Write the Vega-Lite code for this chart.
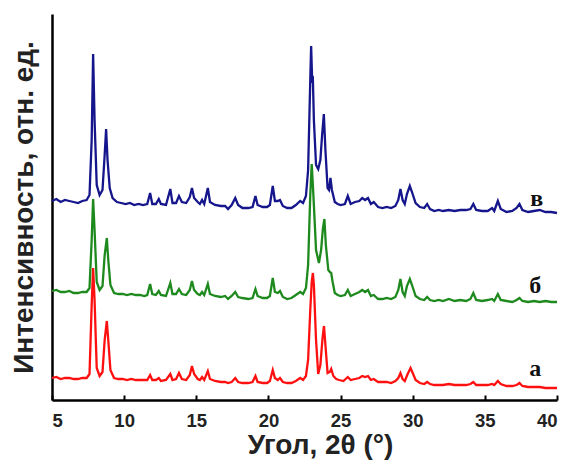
{
  "$schema": "https://vega.github.io/schema/vega-lite/v6.json",
  "width": 505,
  "height": 386,
  "autosize": "none",
  "padding": {"left": 52, "top": 14, "right": 12, "bottom": 63},
  "background": "white",
  "config": {"view": {"stroke": null}},
  "datasets": {
    "a": [
      {"x":5.0,"y":22},{"x":5.3,"y":23},{"x":5.6,"y":21},{"x":5.9,"y":22},{"x":6.2,"y":22},{"x":6.5,"y":21},{"x":6.8,"y":21},{"x":7.1,"y":22},{"x":7.4,"y":22},{"x":7.6,"y":26},{"x":7.75,"y":95},{"x":7.85,"y":132},{"x":7.95,"y":100},{"x":8.1,"y":32},{"x":8.3,"y":24},{"x":8.5,"y":28},{"x":8.65,"y":60},{"x":8.8,"y":79},{"x":8.9,"y":60},{"x":9.05,"y":30},{"x":9.3,"y":22},{"x":9.6,"y":21},{"x":9.9,"y":21},{"x":10.2,"y":20},{"x":10.5,"y":21},{"x":10.8,"y":20},{"x":11.1,"y":20},{"x":11.4,"y":20},{"x":11.6,"y":20},{"x":11.8,"y":25},{"x":11.95,"y":20},{"x":12.2,"y":20},{"x":12.4,"y":22},{"x":12.55,"y":19},{"x":12.9,"y":20},{"x":13.2,"y":26},{"x":13.35,"y":20},{"x":13.6,"y":21},{"x":13.8,"y":27},{"x":14.0,"y":21},{"x":14.3,"y":20},{"x":14.55,"y":25},{"x":14.7,"y":34},{"x":14.85,"y":26},{"x":15.1,"y":21},{"x":15.25,"y":20},{"x":15.4,"y":23},{"x":15.55,"y":20},{"x":15.8,"y":29},{"x":15.95,"y":21},{"x":16.3,"y":19},{"x":16.7,"y":18},{"x":17.0,"y":18},{"x":17.2,"y":17},{"x":17.45,"y":18},{"x":17.7,"y":22},{"x":17.9,"y":18},{"x":18.2,"y":17},{"x":18.6,"y":17},{"x":18.9,"y":18},{"x":19.1,"y":24},{"x":19.25,"y":18},{"x":19.6,"y":17},{"x":19.9,"y":17},{"x":20.1,"y":19},{"x":20.3,"y":30},{"x":20.45,"y":22},{"x":20.65,"y":20},{"x":20.8,"y":22},{"x":21.0,"y":18},{"x":21.3,"y":17},{"x":21.6,"y":17},{"x":21.9,"y":19},{"x":22.2,"y":22},{"x":22.4,"y":20},{"x":22.6,"y":24},{"x":22.75,"y":40},{"x":22.9,"y":90},{"x":23.0,"y":118},{"x":23.08,"y":127},{"x":23.15,"y":115},{"x":23.3,"y":60},{"x":23.45,"y":26},{"x":23.6,"y":35},{"x":23.75,"y":62},{"x":23.85,"y":74},{"x":23.95,"y":55},{"x":24.1,"y":27},{"x":24.25,"y":28},{"x":24.35,"y":31},{"x":24.5,"y":24},{"x":24.7,"y":21},{"x":24.9,"y":20},{"x":25.2,"y":19},{"x":25.5,"y":23},{"x":25.7,"y":20},{"x":26.0,"y":21},{"x":26.3,"y":22},{"x":26.5,"y":24},{"x":26.7,"y":23},{"x":26.9,"y":24},{"x":27.1,"y":20},{"x":27.3,"y":21},{"x":27.6,"y":18},{"x":27.9,"y":18},{"x":28.2,"y":18},{"x":28.5,"y":17},{"x":28.8,"y":19},{"x":29.0,"y":22},{"x":29.15,"y":27},{"x":29.3,"y":21},{"x":29.45,"y":19},{"x":29.65,"y":26},{"x":29.85,"y":32},{"x":30.0,"y":27},{"x":30.2,"y":20},{"x":30.5,"y":17},{"x":30.8,"y":16},{"x":31.0,"y":18},{"x":31.2,"y":16},{"x":31.5,"y":15},{"x":31.8,"y":15},{"x":32.1,"y":15},{"x":32.5,"y":16},{"x":32.9,"y":15},{"x":33.3,"y":15},{"x":33.7,"y":15},{"x":34.0,"y":16},{"x":34.2,"y":18},{"x":34.4,"y":15},{"x":34.8,"y":15},{"x":35.2,"y":15},{"x":35.5,"y":16},{"x":35.65,"y":15},{"x":35.9,"y":19},{"x":36.1,"y":16},{"x":36.5,"y":14},{"x":36.9,"y":14},{"x":37.2,"y":15},{"x":37.4,"y":17},{"x":37.6,"y":14},{"x":38.0,"y":13},{"x":38.4,"y":13},{"x":38.8,"y":13},{"x":39.2,"y":12},{"x":39.6,"y":12},{"x":40.0,"y":12}
    ],
    "b": [
      {"x":5.0,"y":109},{"x":5.3,"y":110},{"x":5.6,"y":108},{"x":5.9,"y":108},{"x":6.2,"y":109},{"x":6.5,"y":107},{"x":6.8,"y":107},{"x":7.1,"y":108},{"x":7.4,"y":108},{"x":7.6,"y":112},{"x":7.75,"y":160},{"x":7.85,"y":201},{"x":7.95,"y":170},{"x":8.1,"y":118},{"x":8.3,"y":110},{"x":8.5,"y":114},{"x":8.65,"y":145},{"x":8.8,"y":162},{"x":8.9,"y":140},{"x":9.05,"y":115},{"x":9.3,"y":107},{"x":9.6,"y":106},{"x":9.9,"y":106},{"x":10.2,"y":105},{"x":10.5,"y":106},{"x":10.8,"y":105},{"x":11.1,"y":105},{"x":11.4,"y":104},{"x":11.6,"y":105},{"x":11.8,"y":116},{"x":11.95,"y":106},{"x":12.2,"y":105},{"x":12.4,"y":109},{"x":12.55,"y":105},{"x":12.9,"y":104},{"x":13.2,"y":117},{"x":13.35,"y":106},{"x":13.6,"y":106},{"x":13.8,"y":111},{"x":14.0,"y":106},{"x":14.3,"y":105},{"x":14.55,"y":110},{"x":14.7,"y":119},{"x":14.85,"y":110},{"x":15.1,"y":106},{"x":15.25,"y":105},{"x":15.4,"y":108},{"x":15.55,"y":105},{"x":15.8,"y":116},{"x":15.95,"y":106},{"x":16.3,"y":104},{"x":16.7,"y":103},{"x":17.0,"y":104},{"x":17.2,"y":101},{"x":17.45,"y":104},{"x":17.7,"y":108},{"x":17.9,"y":103},{"x":18.2,"y":102},{"x":18.6,"y":101},{"x":18.9,"y":102},{"x":19.1,"y":111},{"x":19.25,"y":104},{"x":19.6,"y":102},{"x":19.9,"y":102},{"x":20.1,"y":104},{"x":20.3,"y":122},{"x":20.45,"y":108},{"x":20.65,"y":107},{"x":20.8,"y":109},{"x":21.0,"y":103},{"x":21.3,"y":101},{"x":21.6,"y":102},{"x":21.9,"y":105},{"x":22.2,"y":108},{"x":22.4,"y":106},{"x":22.6,"y":112},{"x":22.75,"y":135},{"x":22.9,"y":205},{"x":23.0,"y":236},{"x":23.08,"y":215},{"x":23.15,"y":195},{"x":23.3,"y":150},{"x":23.5,"y":137},{"x":23.65,"y":150},{"x":23.78,"y":172},{"x":23.88,"y":181},{"x":23.98,"y":155},{"x":24.15,"y":130},{"x":24.25,"y":128},{"x":24.35,"y":127},{"x":24.45,"y":118},{"x":24.6,"y":107},{"x":24.8,"y":105},{"x":25.0,"y":104},{"x":25.3,"y":105},{"x":25.5,"y":110},{"x":25.7,"y":104},{"x":26.0,"y":106},{"x":26.3,"y":108},{"x":26.5,"y":110},{"x":26.7,"y":108},{"x":26.9,"y":110},{"x":27.1,"y":104},{"x":27.3,"y":105},{"x":27.6,"y":101},{"x":27.9,"y":101},{"x":28.2,"y":102},{"x":28.5,"y":101},{"x":28.8,"y":103},{"x":29.0,"y":110},{"x":29.15,"y":121},{"x":29.3,"y":108},{"x":29.45,"y":104},{"x":29.6,"y":114},{"x":29.8,"y":121},{"x":29.95,"y":115},{"x":30.2,"y":104},{"x":30.5,"y":101},{"x":30.8,"y":100},{"x":31.0,"y":103},{"x":31.2,"y":100},{"x":31.5,"y":99},{"x":31.8,"y":100},{"x":32.1,"y":99},{"x":32.5,"y":101},{"x":32.9,"y":99},{"x":33.3,"y":100},{"x":33.7,"y":99},{"x":34.0,"y":101},{"x":34.2,"y":107},{"x":34.4,"y":100},{"x":34.8,"y":99},{"x":35.2,"y":100},{"x":35.5,"y":101},{"x":35.65,"y":99},{"x":35.9,"y":106},{"x":36.1,"y":100},{"x":36.5,"y":99},{"x":36.9,"y":98},{"x":37.2,"y":100},{"x":37.4,"y":102},{"x":37.6,"y":99},{"x":38.0,"y":98},{"x":38.4,"y":99},{"x":38.8,"y":98},{"x":39.2,"y":99},{"x":39.6,"y":98},{"x":40.0,"y":98}
    ],
    "c": [
      {"x":5.0,"y":199},{"x":5.3,"y":201},{"x":5.6,"y":198},{"x":5.9,"y":200},{"x":6.2,"y":199},{"x":6.5,"y":198},{"x":6.8,"y":197},{"x":7.1,"y":199},{"x":7.4,"y":200},{"x":7.6,"y":205},{"x":7.75,"y":260},{"x":7.85,"y":346},{"x":7.95,"y":280},{"x":8.1,"y":215},{"x":8.3,"y":205},{"x":8.5,"y":210},{"x":8.65,"y":245},{"x":8.75,"y":271},{"x":8.85,"y":240},{"x":9.0,"y":212},{"x":9.2,"y":202},{"x":9.5,"y":198},{"x":9.8,"y":197},{"x":10.1,"y":196},{"x":10.4,"y":197},{"x":10.7,"y":195},{"x":11.0,"y":196},{"x":11.3,"y":195},{"x":11.6,"y":196},{"x":11.8,"y":207},{"x":11.95,"y":196},{"x":12.2,"y":196},{"x":12.4,"y":201},{"x":12.55,"y":196},{"x":12.9,"y":195},{"x":13.2,"y":211},{"x":13.35,"y":197},{"x":13.6,"y":197},{"x":13.8,"y":204},{"x":14.0,"y":198},{"x":14.3,"y":197},{"x":14.55,"y":203},{"x":14.7,"y":212},{"x":14.85,"y":202},{"x":15.1,"y":198},{"x":15.25,"y":196},{"x":15.4,"y":200},{"x":15.55,"y":196},{"x":15.8,"y":212},{"x":15.95,"y":198},{"x":16.3,"y":195},{"x":16.7,"y":194},{"x":17.0,"y":194},{"x":17.2,"y":191},{"x":17.45,"y":195},{"x":17.7,"y":202},{"x":17.9,"y":195},{"x":18.2,"y":192},{"x":18.6,"y":192},{"x":18.9,"y":193},{"x":19.1,"y":204},{"x":19.25,"y":195},{"x":19.6,"y":193},{"x":19.9,"y":193},{"x":20.1,"y":195},{"x":20.3,"y":214},{"x":20.45,"y":199},{"x":20.65,"y":199},{"x":20.8,"y":200},{"x":21.0,"y":194},{"x":21.3,"y":192},{"x":21.6,"y":192},{"x":21.9,"y":195},{"x":22.2,"y":199},{"x":22.4,"y":197},{"x":22.6,"y":204},{"x":22.75,"y":230},{"x":22.9,"y":320},{"x":22.96,"y":354},{"x":23.03,"y":320},{"x":23.08,"y":321},{"x":23.15,"y":280},{"x":23.3,"y":235},{"x":23.45,"y":231},{"x":23.6,"y":240},{"x":23.72,"y":265},{"x":23.84,"y":286},{"x":23.95,"y":250},{"x":24.1,"y":212},{"x":24.2,"y":210},{"x":24.3,"y":222},{"x":24.4,"y":210},{"x":24.6,"y":198},{"x":24.8,"y":196},{"x":25.0,"y":195},{"x":25.3,"y":196},{"x":25.5,"y":204},{"x":25.7,"y":196},{"x":26.0,"y":198},{"x":26.3,"y":199},{"x":26.5,"y":202},{"x":26.7,"y":200},{"x":26.9,"y":202},{"x":27.1,"y":196},{"x":27.3,"y":198},{"x":27.6,"y":193},{"x":27.9,"y":192},{"x":28.2,"y":193},{"x":28.5,"y":192},{"x":28.8,"y":194},{"x":29.0,"y":200},{"x":29.15,"y":211},{"x":29.3,"y":200},{"x":29.45,"y":196},{"x":29.6,"y":206},{"x":29.8,"y":214},{"x":29.95,"y":208},{"x":30.2,"y":197},{"x":30.5,"y":193},{"x":30.8,"y":192},{"x":31.0,"y":196},{"x":31.2,"y":191},{"x":31.5,"y":189},{"x":31.8,"y":190},{"x":32.1,"y":189},{"x":32.5,"y":190},{"x":32.9,"y":189},{"x":33.3,"y":190},{"x":33.7,"y":190},{"x":34.0,"y":191},{"x":34.2,"y":196},{"x":34.4,"y":190},{"x":34.8,"y":189},{"x":35.2,"y":189},{"x":35.5,"y":192},{"x":35.65,"y":189},{"x":35.9,"y":199},{"x":36.1,"y":191},{"x":36.5,"y":188},{"x":36.9,"y":189},{"x":37.2,"y":192},{"x":37.4,"y":196},{"x":37.6,"y":190},{"x":38.0,"y":188},{"x":38.4,"y":189},{"x":38.8,"y":190},{"x":39.2,"y":188},{"x":39.6,"y":188},{"x":40.0,"y":187}
    ],
    "labels": [
      {"t": "а", "x": 38.5, "y": 31},
      {"t": "б", "x": 38.5, "y": 114},
      {"t": "в", "x": 38.6, "y": 201}
    ]
  },
  "layer": [
    {
      "data": {"name": "a"},
      "mark": {"type": "line", "color": "#ff1010", "strokeWidth": 2.3},
      "encoding": {
        "x": {"field": "x", "type": "quantitative", "scale": {"domain": [5, 40], "nice": false},
          "axis": {"title": "Угол, 2θ (°)", "values": [5,7.5,10,12.5,15,17.5,20,22.5,25,27.5,30,32.5,35,37.5,40],
            "labelExpr": "datum.value % 5 === 0 ? datum.label : ''",
            "grid": false, "zindex": 1, "domainColor": "black", "domainWidth": 2.5, "tickColor": "black", "tickWidth": 2, "tickSize": -5,
            "labelFont": "Liberation Sans", "labelFontWeight": "bold", "labelFontSize": 18.5, "labelColor": "#222", "labelPadding": 16,
            "titleFont": "Liberation Sans", "titleFontWeight": "bold", "titleFontSize": 28, "titleColor": "#222", "titlePadding": 2,
            "titleX": 268, "titleAnchor": "middle"}},
        "y": {"field": "y", "type": "quantitative", "scale": {"domain": [0, 386], "nice": false},
          "axis": {"title": "Интенсивность, отн. ед.", "ticks": false, "labels": false, "grid": false,
            "domainColor": "black", "domainWidth": 2.5,
            "titleFont": "Liberation Sans", "titleFontWeight": "bold", "titleFontSize": 28, "titleColor": "#222", "titlePadding": 14}}
      }
    },
    {
      "data": {"name": "b"},
      "mark": {"type": "line", "color": "#1e8a1e", "strokeWidth": 2.3},
      "encoding": {
        "x": {"field": "x", "type": "quantitative"},
        "y": {"field": "y", "type": "quantitative"}
      }
    },
    {
      "data": {"name": "c"},
      "mark": {"type": "line", "color": "#16168c", "strokeWidth": 2.3},
      "encoding": {
        "x": {"field": "x", "type": "quantitative"},
        "y": {"field": "y", "type": "quantitative"}
      }
    },
    {
      "data": {"name": "labels"},
      "mark": {"type": "text", "font": "Liberation Serif", "fontWeight": "bold", "fontSize": 24, "baseline": "middle", "align": "center", "color": "#111"},
      "encoding": {
        "x": {"field": "x", "type": "quantitative"},
        "y": {"field": "y", "type": "quantitative"},
        "text": {"field": "t"}
      }
    }
  ]
}
